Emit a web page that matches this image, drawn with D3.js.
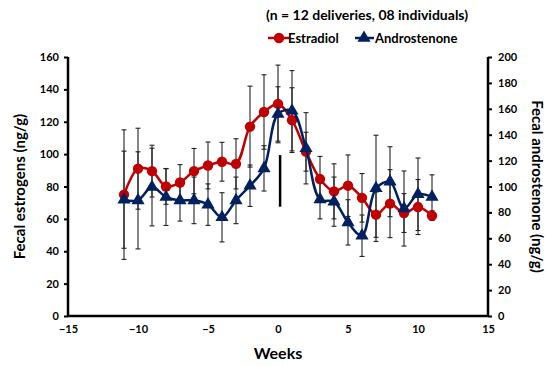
<!DOCTYPE html>
<html>
<head>
<meta charset="utf-8">
<script src="https://cdn.jsdelivr.net/npm/d3@7"></script>
<style>
  body { margin: 0; background: #fff; }
  svg text { font-family: Lato, "Open Sans", sans-serif; font-weight: bold; fill: #000; }
</style>
</head>
<body>
<svg id="chart" width="550" height="366"></svg>
<script>
// weeks relative to delivery
var weeks = [-11,-10,-9,-8,-7,-6,-5,-4,-3,-2,-1,0,1,2,3,4,5,6,7,8,9,10,11];

// estradiol, ng/g (left axis)
var estradiol = [75,91,89.5,80,82.5,89.5,93,95.3,94,117,126,131,121,101.5,84.6,77,80.5,73,62.6,69.4,63.6,67.3,62];
var estradiolErr = [40,25,16,11,11,14,14.5,12,15.5,25,23,24,20,12,14,17,19,15,14,21,12,17,3];

// androstenone, ng/g (right axis)
var andro = [89.8,89.3,99.6,91.9,89.3,89.3,86,76.2,89.3,100.6,114,156,158.5,129.5,90,88.3,72.3,62,98.6,103.7,83,94,92];
var androErr = [37.5,37.5,30,22,16,18,16,19,18,16,17.5,21,31,27.5,15,19,17.5,16,41,27,29,28,17];

var xTicks = [-15,-10,-5,0,5,10,15];
var leftTicks = [0,20,40,60,80,100,120,140,160];
var rightTicks = [0,20,40,60,80,100,120,140,160,180,200];

// delivery marker (week, left-axis from/to)
var deliveryMark = {week: 0.15, from: 67.5, to: 99.4};

function draw_chart(){
    var svg = d3.select("#chart");
    var m = {left: 68, right: 488, top: 57, bottom: 316};

    var x = d3.scaleLinear().domain([-15, 15]).range([m.left, m.right]);
    var yL = d3.scaleLinear().domain([0, 160]).range([m.bottom, m.top]);
    var yR = d3.scaleLinear().domain([0, 200]).range([m.bottom, m.top]);

    var red = "#C00000", blue = "#002060";

    // axes
    var gx = svg.append("g")
        .attr("transform", "translate(0," + m.bottom + ")")
        .call(d3.axisBottom(x).tickValues(xTicks).tickSize(0).tickPadding(9));
    var gl = svg.append("g")
        .attr("transform", "translate(" + m.left + ",0)")
        .call(d3.axisLeft(yL).tickValues(leftTicks).tickSize(4).tickPadding(5));
    var gr = svg.append("g")
        .attr("transform", "translate(" + m.right + ",0)")
        .call(d3.axisRight(yR).tickValues(rightTicks).tickSize(4).tickPadding(6));

    [gx, gl, gr].forEach(function(g){
        g.select(".domain").attr("stroke", "#000").attr("stroke-width", 2.5);
        g.selectAll(".tick line").attr("stroke", "#000").attr("stroke-width", 2);
        g.selectAll(".tick text").style("font-size", "11px").attr("fill", "#000");
    });
    // no end stubs on the axis lines
    gl.select(".domain").attr("d", "M0," + m.top + "V" + m.bottom);
    gr.select(".domain").attr("d", "M0," + m.top + "V" + m.bottom);
    gx.select(".domain").attr("d", "M" + m.left + ",0H" + m.right);

    // error bars
    function errorBars(vals, errs, y){
        var g = svg.append("g").attr("stroke", "#222").attr("stroke-width", 1.1);
        weeks.forEach(function(w, i){
            var cx = x(w), y1 = y(vals[i] + errs[i]), y2 = y(vals[i] - errs[i]);
            g.append("line").attr("x1", cx).attr("x2", cx).attr("y1", y1).attr("y2", y2);
            g.append("line").attr("x1", cx - 2.5).attr("x2", cx + 2.5).attr("y1", y1).attr("y2", y1);
            g.append("line").attr("x1", cx - 2.5).attr("x2", cx + 2.5).attr("y1", y2).attr("y2", y2);
        });
    }
    errorBars(estradiol, estradiolErr, yL);
    errorBars(andro, androErr, yR);

    // delivery marker
    svg.append("line")
        .attr("x1", x(deliveryMark.week)).attr("x2", x(deliveryMark.week))
        .attr("y1", yL(deliveryMark.from)).attr("y2", yL(deliveryMark.to))
        .attr("stroke", "#000").attr("stroke-width", 2.5);

    // lines
    var lineE = d3.line().x(function(d, i){ return x(weeks[i]); }).y(function(d){ return yL(d); })
        .curve(d3.curveCatmullRom.alpha(0.5));
    var lineA = d3.line().x(function(d, i){ return x(weeks[i]); }).y(function(d){ return yR(d); })
        .curve(d3.curveCatmullRom.alpha(0.5));

    svg.append("path").datum(estradiol).attr("d", lineE)
        .attr("fill", "none").attr("stroke", red).attr("stroke-width", 2.5);
    svg.append("g").selectAll("circle").data(estradiol).join("circle")
        .attr("cx", function(d, i){ return x(weeks[i]); })
        .attr("cy", function(d){ return yL(d); })
        .attr("r", 5.2).attr("fill", red);

    svg.append("path").datum(andro).attr("d", lineA)
        .attr("fill", "none").attr("stroke", blue).attr("stroke-width", 2.5);
    var tri = d3.symbol().type(d3.symbolTriangle).size(75);
    svg.append("g").selectAll("path").data(andro).join("path")
        .attr("d", tri)
        .attr("transform", function(d, i){ return "translate(" + x(weeks[i]) + "," + yR(d) + ")"; })
        .attr("fill", blue);

    // titles
    svg.append("text").attr("x", 367).attr("y", 20).attr("text-anchor", "middle")
        .style("font-size", "14px").text("(n = 12 deliveries, 08 individuals)");

    svg.append("text")
        .attr("transform", "translate(25," + ((m.top + m.bottom) / 2) + ") rotate(-90)")
        .attr("text-anchor", "middle").style("font-size", "15px").text("Fecal estrogens (ng/g)");
    svg.append("text")
        .attr("transform", "translate(532," + ((m.top + m.bottom) / 2) + ") rotate(90)")
        .attr("text-anchor", "middle").style("font-size", "15px").text("Fecal androstenone (ng/g)");
    svg.append("text").attr("x", x(0)).attr("y", 359).attr("text-anchor", "middle")
        .style("font-size", "16px").text("Weeks");

    // legend
    var lg = svg.append("g").attr("transform", "translate(0,38)");
    lg.append("line").attr("x1", 268).attr("x2", 290).attr("y1", 0).attr("y2", 0)
        .attr("stroke", red).attr("stroke-width", 2.5);
    lg.append("circle").attr("cx", 279).attr("cy", 0).attr("r", 5.2).attr("fill", red);
    lg.append("text").attr("x", 288).attr("y", 5).style("font-size", "13px").text("Estradiol");
    lg.append("line").attr("x1", 355).attr("x2", 374).attr("y1", 0).attr("y2", 0)
        .attr("stroke", blue).attr("stroke-width", 2.5);
    lg.append("path").attr("d", tri).attr("transform", "translate(364,0)").attr("fill", blue);
    lg.append("text").attr("x", 375).attr("y", 5).style("font-size", "13px").text("Androstenone");
}

draw_chart();
</script>
</body>
</html>
